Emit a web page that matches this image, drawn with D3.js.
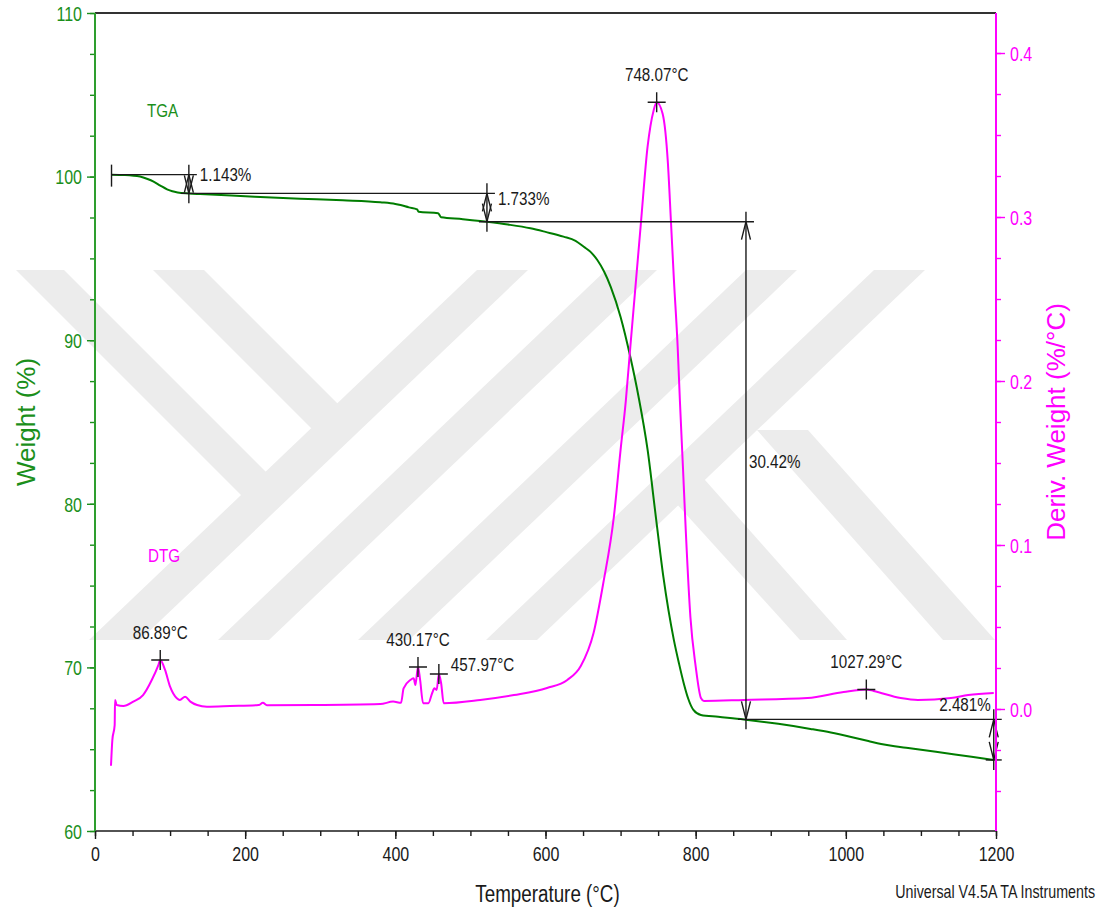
<!DOCTYPE html>
<html>
<head>
<meta charset="utf-8">
<script src="https://cdn.jsdelivr.net/npm/d3@7"></script>
<style>
  body { margin: 0; background: #fff; }
  svg { display: block; font-family: "Liberation Sans", Arial, sans-serif; }
</style>
</head>
<body>
<div id="chart"></div>
<script>
// TGA curve: temperature (°C) and weight (%)
var tgaTemp = [22, 40, 60, 70, 78, 87, 96, 103, 110, 125, 140, 200, 273, 330, 380, 400, 407, 418, 429, 431,
  457, 461, 490, 513, 522, 550, 580, 600, 624, 640, 651, 660, 669, 678, 687, 700, 713, 724, 736, 747,
  757, 771, 778, 784, 790, 797, 807, 830, 864, 910, 953, 980, 1007, 1030, 1047, 1065, 1083, 1120, 1160, 1197];
var tgaWeight = [100.12, 100.10, 100.00, 99.85, 99.69, 99.45, 99.22, 99.10, 99.03, 98.97, 98.93, 98.80, 98.65, 98.55, 98.43, 98.33, 98.26, 98.12, 98.00, 97.85,
  97.76, 97.51, 97.40, 97.29, 97.24, 97.07, 96.84, 96.62, 96.33, 96.07, 95.71, 95.40, 94.90, 94.20, 93.25, 91.42, 88.97, 86.53, 83.29, 79.19,
  75.53, 71.67, 70.20, 69.05, 68.10, 67.40, 67.09, 66.98, 66.82, 66.55, 66.24, 66.02, 65.75, 65.50, 65.32, 65.18, 65.07, 64.84, 64.58, 64.34];

// DTG curve: temperature (°C) and derivative weight (%/°C)
var dtgTemp = [21.3, 23.1, 26.2, 26.7, 28.9, 37.8, 51, 64, 75.6, 84.4, 86.9, 93.3, 100, 109, 113, 120, 127, 136, 149, 180,
  218, 223.6, 229, 291, 380, 397, 407.6, 411, 420, 424.4, 426.7, 430.2, 433, 437, 444, 449, 452, 455, 458, 461,
  464.4, 513, 558, 602, 629, 647, 664, 677, 691, 700, 707, 713, 727, 736, 744, 748.1, 756, 763, 767, 771,
  776, 779, 783, 787, 793, 800, 807, 811, 864, 949, 997, 1027.3, 1037, 1073, 1096, 1140, 1163, 1197];
var dtgValue = [-0.0346, -0.019, -0.0098, 0.0055, 0.0024, 0.0018, 0.0045, 0.0085, 0.0177, 0.0268, 0.0299, 0.0238, 0.0136, 0.0065, 0.0055, 0.0075, 0.0045, 0.0024, 0.0014, 0.0018,
  0.0024, 0.0038, 0.0023, 0.0024, 0.0030, 0.0045, 0.0038, 0.0126, 0.0177, 0.0187, 0.0146, 0.0258, 0.0177, 0.0035, 0.0035, 0.0096, 0.0126, 0.0116, 0.0213, 0.0157,
  0.0035, 0.0055, 0.0085, 0.0128, 0.0177, 0.0262, 0.0463, 0.0768, 0.117, 0.158, 0.188, 0.221, 0.296, 0.343, 0.365, 0.370, 0.363, 0.333, 0.298, 0.262,
  0.221, 0.188, 0.148, 0.107, 0.056, 0.026, 0.0067, 0.0049, 0.0055, 0.0067, 0.0104, 0.0119, 0.0110, 0.0067, 0.0055, 0.0067, 0.0085, 0.0098];

// DTG peak markers
var peakTemp = [86.89, 430.17, 457.97, 748.07, 1027.29];
var peakValue = [0.0299, 0.0256, 0.0213, 0.370, 0.0119];

// weight-loss steps
var stepTemp = [22, 125, 522, 867, 1197];
var startWeight = 100.12;
var stepLoss = [1.143, 1.733, 30.42, 2.481];

var tempTicks = [0, 200, 400, 600, 800, 1000, 1200];
var weightTicks = [60, 70, 80, 90, 100, 110];
var derivTicks = [0.0, 0.1, 0.2, 0.3, 0.4];

var W = 1105, H = 915;
var pLeft = 95, pRight = 996, pTop = 13, pBottom = 831;
var green = "#1b8f1b", tgaGreen = "#007d00", magenta = "#ff00ff", ink = "#1a1a1a";

var svg = d3.select("#chart").append("svg")
  .attr("width", W).attr("height", H);

var x = d3.scaleLinear().domain([0, 1200]).range([pLeft, pRight]);
var yW = d3.scaleLinear().domain([60, 110]).range([pBottom, pTop]);
var yD = d3.scaleLinear().domain([-0.0744, 0.4244]).range([pBottom, pTop]);

// horizontal text squeezed like the original
function label(g, px, py, str, size, anchor, color, sx) {
  return g.append("text")
    .attr("transform", "translate(" + px + "," + py + ") scale(" + (sx || 0.8) + ",1)")
    .attr("text-anchor", anchor || "start")
    .attr("font-size", size)
    .attr("fill", color || ink)
    .text(str);
}

// watermark (background)
var wm = [
  [[16,270],[64,270],[279,485],[246,500]],
  [[153,270],[204,270],[349,415],[323,440]],
  [[477,270],[528,270],[140,640],[89,640]],
  [[606,270],[657,270],[269,640],[218,640]],
  [[746,270],[797,270],[409,640],[358,640]],
  [[874,270],[925,270],[537,640],[486,640]],
  [[655,480],[705,480],[847,640],[800,640]],
  [[757,430],[808,430],[995,640],[943,640]]
];
svg.append("g").selectAll("polygon").data(wm).enter().append("polygon")
  .attr("points", function(d) { return d.join(" "); })
  .attr("fill", "#ececec");

// curves
var tga = tgaTemp.map(function(t, i) { return [t, tgaWeight[i]]; });
var dtg = dtgTemp.map(function(t, i) { return [t, dtgValue[i]]; });

svg.append("path")
  .attr("d", d3.line().x(function(d) { return x(d[0]); }).y(function(d) { return yW(d[1]); })
    .curve(d3.curveMonotoneX)(tga))
  .attr("fill", "none").attr("stroke", tgaGreen).attr("stroke-width", 2);

svg.append("path")
  .attr("d", d3.line().x(function(d) { return x(d[0]); }).y(function(d) { return yD(d[1]); })
    .curve(d3.curveMonotoneX)(dtg))
  .attr("fill", "none").attr("stroke", magenta).attr("stroke-width", 2);

// step annotations
var ann = svg.append("g").attr("stroke", ink).attr("stroke-width", 1.4).attr("fill", "none");
var levels = [startWeight];
stepLoss.forEach(function(l) { levels.push(levels[levels.length - 1] - l); });

levels.forEach(function(lv, i) {
  var x0 = i == 0 ? x(stepTemp[0]) : x(stepTemp[i]) - 8;
  var x1 = i < stepLoss.length ? x(stepTemp[i + 1]) + 8 : x(stepTemp[i]) + 8;
  ann.append("line").attr("x1", x0).attr("x2", x1).attr("y1", yW(lv)).attr("y2", yW(lv));
});
ann.append("line")
  .attr("x1", x(stepTemp[0])).attr("x2", x(stepTemp[0]))
  .attr("y1", yW(levels[0]) - 10).attr("y2", yW(levels[0]) + 12);

stepLoss.forEach(function(l, i) {
  var xs = x(stepTemp[i + 1]), y0 = yW(levels[i]), y1 = yW(levels[i + 1]);
  ann.append("line").attr("x1", xs).attr("x2", xs).attr("y1", y0 - 10).attr("y2", y1 + 10);
  ann.append("path").attr("d", "M" + (xs - 4.5) + "," + (y0 + 18) + "L" + xs + "," + y0 + "L" + (xs + 4.5) + "," + (y0 + 18));
  ann.append("path").attr("d", "M" + (xs - 4.5) + "," + (y1 - 18) + "L" + xs + "," + y1 + "L" + (xs + 4.5) + "," + (y1 - 18));
  var txt = l.toFixed(l < 10 ? 3 : 2) + "%";
  if (xs + 70 > pRight) {
    label(svg, xs - 3, y0 - 8, txt, 19, "end");
  } else {
    label(svg, xs + (y1 - y0 < 40 ? 11 : 3), (y0 + y1) / 2 - 3, txt, 19, "start");
  }
});

// peak markers
peakTemp.forEach(function(t, i) {
  var px = x(t), py = yD(peakValue[i]);
  ann.append("path").attr("d", "M" + (px - 9) + "," + py + "H" + (px + 9) + "M" + px + "," + (py - 10) + "V" + (py + 10));
  var txt = t.toFixed(2) + "°C";
  if (i > 0 && t - peakTemp[i - 1] < 40) {
    label(svg, px + 12, py - 3, txt, 19, "start");
  } else {
    label(svg, px, py - 21, txt, 19, "middle");
  }
});

// axes
function styleAxis(g, color) {
  g.select(".domain").remove();
  g.selectAll("line").attr("stroke", color).attr("stroke-width", 1.4);
}

var gxMinor = svg.append("g").attr("transform", "translate(0," + pBottom + ")")
  .call(d3.axisBottom(x).tickValues(d3.range(0, 1201, 50)).tickSize(5).tickFormat(""));
styleAxis(gxMinor, ink);
var gx = svg.append("g").attr("transform", "translate(0," + pBottom + ")")
  .call(d3.axisBottom(x).tickValues(tempTicks).tickSize(8).tickFormat(d3.format("d")));
styleAxis(gx, ink);
gx.selectAll("text").attr("y", null).attr("dy", null)
  .attr("transform", "translate(0,30) scale(0.8,1)").attr("font-size", 20).attr("fill", ink)
  .attr("font-family", "Liberation Sans, Arial, sans-serif");

var gyMinor = svg.append("g").attr("transform", "translate(" + pLeft + ",0)")
  .call(d3.axisLeft(yW).tickValues(d3.range(60, 110.1, 2.5)).tickSize(5).tickFormat(""));
styleAxis(gyMinor, green);
var gy = svg.append("g").attr("transform", "translate(" + pLeft + ",0)")
  .call(d3.axisLeft(yW).tickValues(weightTicks).tickSize(8).tickFormat(d3.format("d")));
styleAxis(gy, green);
gy.selectAll("text").attr("x", null).attr("dy", "0.36em")
  .attr("transform", "translate(-13,0) scale(0.8,1)").attr("font-size", 20).attr("fill", green)
  .attr("font-family", "Liberation Sans, Arial, sans-serif");

var gdMinor = svg.append("g").attr("transform", "translate(" + pRight + ",0)")
  .call(d3.axisRight(yD).tickValues(d3.range(-0.05, 0.41, 0.025)).tickSize(5).tickFormat(""));
styleAxis(gdMinor, magenta);
var gd = svg.append("g").attr("transform", "translate(" + pRight + ",0)")
  .call(d3.axisRight(yD).tickValues(derivTicks).tickSize(9).tickFormat(d3.format(".1f")));
styleAxis(gd, magenta);
gd.selectAll("text").attr("x", null).attr("dy", "0.36em")
  .attr("transform", "translate(14,0) scale(0.8,1)").attr("font-size", 20).attr("fill", magenta)
  .attr("font-family", "Liberation Sans, Arial, sans-serif");

// frame lines
svg.append("line").attr("x1", pLeft).attr("x2", pRight).attr("y1", pTop).attr("y2", pTop)
  .attr("stroke", "#333").attr("stroke-width", 2);
svg.append("line").attr("x1", pLeft).attr("x2", pRight).attr("y1", pBottom).attr("y2", pBottom)
  .attr("stroke", ink).attr("stroke-width", 1.6);
svg.append("line").attr("x1", pLeft).attr("x2", pLeft).attr("y1", pTop).attr("y2", pBottom)
  .attr("stroke", "#2e9e2e").attr("stroke-width", 2);
svg.append("line").attr("x1", pRight).attr("x2", pRight).attr("y1", pTop).attr("y2", pBottom)
  .attr("stroke", magenta).attr("stroke-width", 2);

// titles
label(svg, 147, 117, "TGA", 19, "start", green);
label(svg, 148, 562, "DTG", 19, "start", magenta);
label(svg, (pLeft + pRight) / 2 + 2, 902, "Temperature (°C)", 23.5, "middle");
label(svg, 1095, 898, "Universal V4.5A TA Instruments", 19, "end", ink, 0.75);

svg.append("text")
  .attr("transform", "translate(35," + (pTop + pBottom) / 2 + ") rotate(-90)")
  .attr("text-anchor", "middle").attr("font-size", 26).attr("fill", green)
  .text("Weight (%)");
svg.append("text")
  .attr("transform", "translate(1065," + (pTop + pBottom) / 2 + ") rotate(-90)")
  .attr("text-anchor", "middle").attr("font-size", 26).attr("fill", magenta)
  .text("Deriv. Weight (%/°C)");
</script>
</body>
</html>
